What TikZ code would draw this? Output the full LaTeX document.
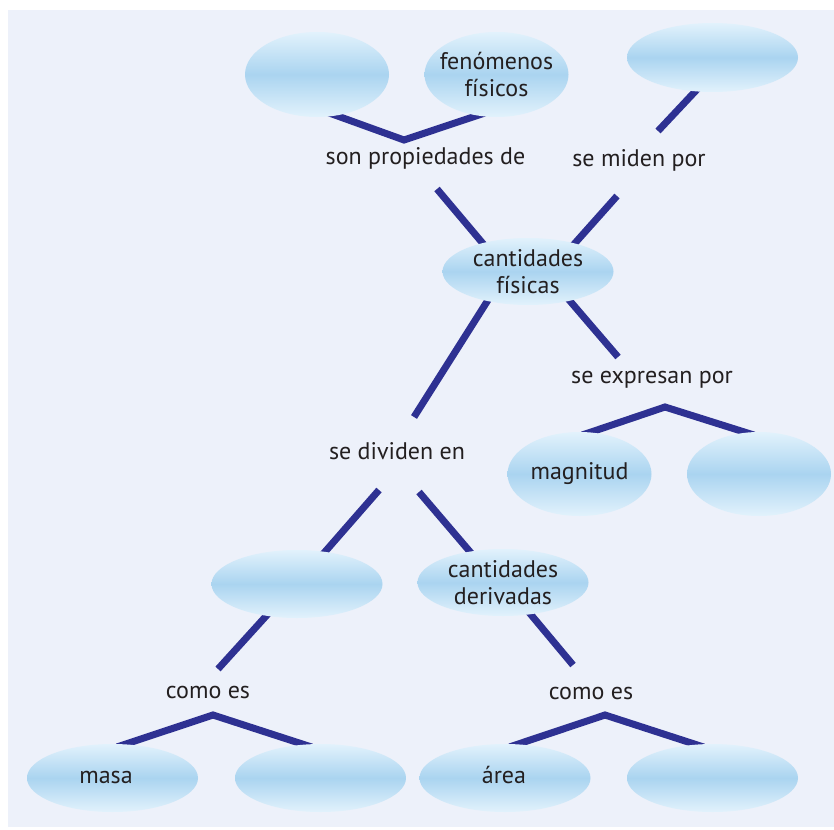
\documentclass[tikz,border=0pt]{standalone}
\usepackage{fontspec}
\setmainfont{PT Sans}
\usepackage{tikz}
\usetikzlibrary{shapes.geometric,backgrounds}
\definecolor{panel}{RGB}{237,241,250}
\definecolor{navy}{RGB}{46,49,146}
\definecolor{ink}{RGB}{35,31,32}
\definecolor{skyedge}{RGB}{226,242,252}
\definecolor{skymid}{RGB}{170,212,240}

\begin{document}
\begin{tikzpicture}[
    x=0.5pt, y=-0.5pt,
    bubble/.style={ellipse, inner sep=0pt, outer sep=0pt, top color=skyedge, bottom color=skyedge, middle color=skymid},
    flat/.style={bubble, minimum width=85.5pt, minimum height=34pt},
    tall/.style={bubble, minimum width=72pt, minimum height=42.5pt},
    txt/.style={text=ink, align=center, inner sep=0pt, font=\fontsize{12}{13.5}\selectfont},
    link/.style={draw=navy, line width=3.5pt},
    into/.style={shorten <=-4pt},
    under/.style={shorten <=-4pt, shorten >=-4pt}
]
\useasboundingbox (0,0) rectangle (834,829);

% top row
\node[tall] (tl) at (317,74.5) {};
\node[tall] (fen) at (496.5,74.5) {};
\node[txt] (fentxt) at (fen) {fenómenos\\físicos};
\node[flat, minimum height=34.5pt] (tr) at (712.5,57.5) {};
\node[txt] (prop) at (425.5,158) {son propiedades de};
\node[txt] (miden) at (639,160) {se miden por};

% centre
\node[flat, minimum height=33.5pt] (fis) at (528,271.5) {};
\node[txt] (fistxt) at (fis) {cantidades\\físicas};
\node[txt] (expr) at (652,380) {se expresan por};
\node[tall, minimum height=42pt] (mag) at (579.5,474) {};
\node[txt] (magtxt) at (mag) {magnitud};
\node[tall, minimum height=42pt] (unid) at (759,474) {};
\node[txt] (divid) at (397,451) {se dividen en};

% second level
\node[flat] (fund) at (297,584) {};
\node[flat, minimum height=33.5pt] (der) at (503,582.5) {};
\node[txt] (dertxt) at (der) {cantidades\\derivadas};
\node[txt] (como1) at (208,692) {como es};
\node[txt] (como2) at (591,693) {como es};

% bottom row
\node[flat] (masa) at (112.5,778) {};
\node[txt] (masatxt) at (106,777) {masa};
\node[flat] (long) at (320.5,778) {};
\node[flat] (area) at (505,778) {};
\node[txt] (areatxt) at (504,775) {área};
\node[flat] (vol) at (712.5,778) {};

% free ends and corners of the links
\coordinate (v1) at (404,140);
\coordinate (v2) at (665,407);
\coordinate (v3) at (213,715);
\coordinate (v4) at (605,715);
\coordinate (e1) at (437,189);
\coordinate (e2) at (658,131);
\coordinate (e3) at (617,196);
\coordinate (e4) at (414,417);
\coordinate (e5) at (618,357);
\coordinate (e6) at (379,490);
\coordinate (e7) at (419,492);
\coordinate (e8) at (218,669);
\coordinate (e9) at (573,665);

\begin{scope}[on background layer]
\fill[panel] (8,10) rectangle (834,827);
\draw[link, under] (tl.-65) -- (v1) -- (fen.-115);
\draw[link, into] (tr.-117) -- (e2);
\draw[link, into] (fis.148) -- (e1);
\draw[link, into] (fis.31) -- (e3);
\draw[link, into] (fis.-144) -- (e4);
\draw[link, into] (fis.-35) -- (e5);
\draw[link, under] (mag.76) -- (v2) -- (unid.107);
\draw[link, into] (fund.49) -- (e6);
\draw[link, into] (der.137) -- (e7);
\draw[link, into] (fund.-134) -- (e8);
\draw[link, under] (masa.70) -- (v3) -- (long.116);
\draw[link, into] (der.-49) -- (e9);
\draw[link, under] (area.70) -- (v4) -- (vol.116);
\end{scope}
\end{tikzpicture}
\end{document}
